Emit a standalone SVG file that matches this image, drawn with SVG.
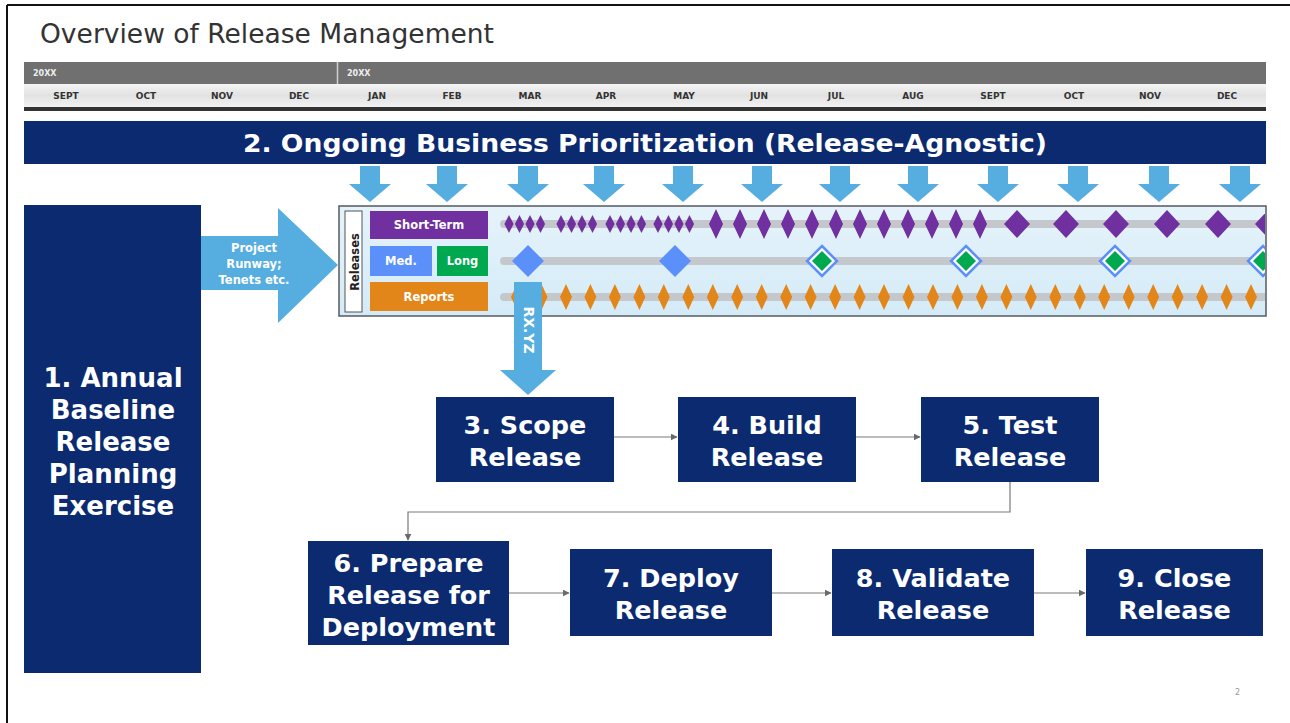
<svg xmlns="http://www.w3.org/2000/svg" xmlns:xlink="http://www.w3.org/1999/xlink" width="1290" height="723" viewBox="0 0 1290 723">
  <style>
    .title { font-family: "DejaVu Sans", Verdana, sans-serif; font-size: 26px; fill: #333333; }
    .yr { font-family: "DejaVu Sans", Verdana, sans-serif; font-size: 8px; font-weight: bold; fill: #eeeeee; }
    .mon { font-family: "DejaVu Sans", Verdana, sans-serif; font-size: 9px; font-weight: bold; fill: #333333; text-anchor: middle; }
    .navy { fill: #0b2a6f; }
    .big { font-family: "DejaVu Sans", Verdana, sans-serif; font-size: 25.5px; font-weight: bold; fill: #ffffff; text-anchor: middle; }
    .banner { font-family: "DejaVu Sans", Verdana, sans-serif; font-size: 24px; font-weight: bold; fill: #ffffff; text-anchor: middle; }
    .lbl { font-family: "DejaVu Sans", Verdana, sans-serif; font-size: 11.5px; font-weight: bold; fill: #ffffff; text-anchor: middle; }
    .arrowtxt { font-family: "DejaVu Sans", Verdana, sans-serif; font-size: 11.5px; font-weight: bold; fill: #ffffff; text-anchor: middle; }
    .lblue { fill: #56ade0; }
    .track { stroke: #c4c8cc; stroke-width: 8; stroke-linecap: round; }
    .conn { fill: none; stroke: #7a7a7a; stroke-width: 1.2; }
  </style>
  <defs>
    <linearGradient id="monthGrad" x1="0" y1="0" x2="0" y2="1">
      <stop offset="0" stop-color="#f4f4f4"/>
      <stop offset="0.5" stop-color="#e2e2e2"/>
      <stop offset="1" stop-color="#f2f2f2"/>
    </linearGradient>
    <linearGradient id="panelGrad" x1="0" y1="0" x2="0" y2="1">
      <stop offset="0" stop-color="#e6f3fb"/>
      <stop offset="1" stop-color="#d4ebf7"/>
    </linearGradient>
    <clipPath id="panelClip">
      <rect x="340" y="207" width="925" height="108"/>
    </clipPath>
    <marker id="tri" viewBox="0 0 10 10" refX="9" refY="5" markerWidth="7" markerHeight="7" orient="auto" markerUnits="userSpaceOnUse">
      <path d="M0,0 L10,5 L0,10 Z" fill="#6a6a6a"/>
    </marker>
    <path id="dSmall" d="M0,-9 L4.6,0 L0,9 L-4.6,0 Z" fill="#7030a0"/>
    <path id="dMid" d="M0,-15 L7,0 L0,15 L-7,0 Z" fill="#7030a0"/>
    <path id="dFat" d="M0,-14 L13,0 L0,14 L-13,0 Z" fill="#7030a0"/>
    <path id="dOrange" d="M0,-13 L6,0 L0,13 L-6,0 Z" fill="#e2861a"/>
    <path id="dBlue" d="M0,-16 L16,0 L0,16 L-16,0 Z" fill="#5b8ff9"/>
    <g id="dGreen">
      <path d="M0,-15 L15,0 L0,15 L-15,0 Z" fill="#ffffff" stroke="#5b8ff9" stroke-width="2.5"/>
      <path d="M0,-10 L10,0 L0,10 L-10,0 Z" fill="#00a850"/>
    </g>
    <path id="downArrow" d="M-10,0 L10,0 L10,18 L21,18 L0,36 L-21,18 L-10,18 Z" fill="#56ade0"/>
  </defs>

  <!-- page frame -->
  <rect x="0" y="0" width="1290" height="723" fill="#ffffff"/>
  <line x1="7" y1="5" x2="1290" y2="5" stroke="#111111" stroke-width="2"/>
  <line x1="7" y1="5" x2="7" y2="723" stroke="#111111" stroke-width="2"/>

  <text class="title" x="40" y="43" textLength="454" lengthAdjust="spacingAndGlyphs">Overview of Release Management</text>

  <!-- timeline -->
  <g id="timeline">
    <rect x="24" y="62" width="1242" height="22" fill="#707070"/>
    <line x1="337.5" y1="62" x2="337.5" y2="84" stroke="#d0d0d0" stroke-width="1.5"/>
    <text class="yr" x="33" y="76">20XX</text>
    <text class="yr" x="347" y="76">20XX</text>
    <rect x="24" y="84" width="1242" height="23" fill="url(#monthGrad)"/>
    <rect x="24" y="107" width="1242" height="4" fill="#333333"/>
    <text class="mon" x="66" y="99">SEPT</text>
    <text class="mon" x="146" y="99">OCT</text>
    <text class="mon" x="222" y="99">NOV</text>
    <text class="mon" x="299" y="99">DEC</text>
    <text class="mon" x="377" y="99">JAN</text>
    <text class="mon" x="452" y="99">FEB</text>
    <text class="mon" x="530" y="99">MAR</text>
    <text class="mon" x="606" y="99">APR</text>
    <text class="mon" x="684" y="99">MAY</text>
    <text class="mon" x="759" y="99">JUN</text>
    <text class="mon" x="836" y="99">JUL</text>
    <text class="mon" x="913" y="99">AUG</text>
    <text class="mon" x="993" y="99">SEPT</text>
    <text class="mon" x="1074" y="99">OCT</text>
    <text class="mon" x="1150" y="99">NOV</text>
    <text class="mon" x="1227" y="99">DEC</text>
  </g>

  <!-- 2. ongoing prioritization banner -->
  <g id="node2">
    <rect class="navy" x="24" y="121" width="1242" height="43"/>
    <text class="banner" x="645" y="152" textLength="804" lengthAdjust="spacingAndGlyphs">2. Ongoing Business Prioritization (Release-Agnostic)</text>
  </g>

  <!-- prioritization feed arrows -->
  <g id="feedArrows">
    <use xlink:href="#downArrow" x="370" y="166"/>
    <use xlink:href="#downArrow" x="447" y="166"/>
    <use xlink:href="#downArrow" x="528" y="166"/>
    <use xlink:href="#downArrow" x="604" y="166"/>
    <use xlink:href="#downArrow" x="683" y="166"/>
    <use xlink:href="#downArrow" x="762" y="166"/>
    <use xlink:href="#downArrow" x="840" y="166"/>
    <use xlink:href="#downArrow" x="918" y="166"/>
    <use xlink:href="#downArrow" x="998" y="166"/>
    <use xlink:href="#downArrow" x="1078" y="166"/>
    <use xlink:href="#downArrow" x="1159" y="166"/>
    <use xlink:href="#downArrow" x="1240" y="166"/>
  </g>

  <!-- 1. annual planning -->
  <g id="node1">
    <rect class="navy" x="24" y="205" width="177" height="468"/>
    <text class="big" x="113" y="387" style="font-size:26px">1. Annual</text>
    <text class="big" x="113" y="419" style="font-size:26px">Baseline</text>
    <text class="big" x="113" y="451" style="font-size:26px">Release</text>
    <text class="big" x="113" y="483" style="font-size:26px">Planning</text>
    <text class="big" x="113" y="515" style="font-size:26px">Exercise</text>
  </g>

  <!-- input arrow -->
  <g id="inputArrow">
    <path class="lblue" d="M201,236 L278,236 L278,208 L338,265 L278,323 L278,290 L201,290 Z"/>
    <text class="arrowtxt" x="254" y="252">Project</text>
    <text class="arrowtxt" x="254" y="268">Runway;</text>
    <text class="arrowtxt" x="254" y="284">Tenets etc.</text>
  </g>

  <!-- releases panel -->
  <g id="releases">
    <rect x="339" y="206" width="927" height="110" fill="url(#panelGrad)" stroke="#555a60" stroke-width="1.5"/>
    <rect x="345" y="211" width="17" height="101" fill="#ffffff" stroke="#555555" stroke-width="1"/>
    <text transform="translate(358.5,262) rotate(-90)" style="font-family:'DejaVu Sans',Verdana,sans-serif;font-size:11.5px;font-weight:bold;fill:#222222;text-anchor:middle">Releases</text>

    <rect x="370" y="211" width="118" height="28" fill="#7030a0"/>
    <text class="lbl" x="429" y="229">Short-Term</text>
    <rect x="370" y="246" width="62" height="30" fill="#5b8ff9"/>
    <text class="lbl" x="401" y="265">Med.</text>
    <rect x="437" y="246" width="51" height="30" fill="#00a850"/>
    <text class="lbl" x="462.5" y="265">Long</text>
    <rect x="370" y="282" width="118" height="29" fill="#e2861a"/>
    <text class="lbl" x="429" y="301">Reports</text>

    <g clip-path="url(#panelClip)">
      <line class="track" x1="504" y1="224" x2="1270" y2="224"/>
      <line class="track" x1="504" y1="261" x2="1270" y2="261"/>
      <line class="track" x1="504" y1="297" x2="1270" y2="297"/>

      <!-- short-term: weekly, then fortnightly, then monthly -->
      <use xlink:href="#dSmall" x="509" y="224"/><use xlink:href="#dSmall" x="519.5" y="224"/><use xlink:href="#dSmall" x="530" y="224"/><use xlink:href="#dSmall" x="540.5" y="224"/>
      <use xlink:href="#dSmall" x="561" y="224"/><use xlink:href="#dSmall" x="571.5" y="224"/><use xlink:href="#dSmall" x="582" y="224"/><use xlink:href="#dSmall" x="592.5" y="224"/>
      <use xlink:href="#dSmall" x="610" y="224"/><use xlink:href="#dSmall" x="620.5" y="224"/><use xlink:href="#dSmall" x="631" y="224"/><use xlink:href="#dSmall" x="641.5" y="224"/>
      <use xlink:href="#dSmall" x="658" y="224"/><use xlink:href="#dSmall" x="668.5" y="224"/><use xlink:href="#dSmall" x="679" y="224"/><use xlink:href="#dSmall" x="689.5" y="224"/>
      <use xlink:href="#dMid" x="716" y="224"/><use xlink:href="#dMid" x="740" y="224"/><use xlink:href="#dMid" x="764" y="224"/><use xlink:href="#dMid" x="788" y="224"/>
      <use xlink:href="#dMid" x="812" y="224"/><use xlink:href="#dMid" x="836" y="224"/><use xlink:href="#dMid" x="860" y="224"/><use xlink:href="#dMid" x="884" y="224"/>
      <use xlink:href="#dMid" x="908" y="224"/><use xlink:href="#dMid" x="932" y="224"/><use xlink:href="#dMid" x="956" y="224"/><use xlink:href="#dMid" x="980" y="224"/>
      <use xlink:href="#dFat" x="1017" y="224"/><use xlink:href="#dFat" x="1066" y="224"/><use xlink:href="#dFat" x="1116" y="224"/>
      <use xlink:href="#dFat" x="1167" y="224"/><use xlink:href="#dFat" x="1218" y="224"/><use xlink:href="#dFat" x="1268" y="224"/>

      <!-- medium / long term -->
      <use xlink:href="#dBlue" x="528" y="261"/>
      <use xlink:href="#dBlue" x="675" y="261"/>
      <use xlink:href="#dGreen" x="822" y="261"/>
      <use xlink:href="#dGreen" x="966" y="261"/>
      <use xlink:href="#dGreen" x="1115" y="261"/>
      <use xlink:href="#dGreen" x="1263" y="261"/>

      <!-- reports -->
      <use xlink:href="#dOrange" x="517" y="297"/><use xlink:href="#dOrange" x="541.5" y="297"/><use xlink:href="#dOrange" x="566" y="297"/><use xlink:href="#dOrange" x="590.4" y="297"/>
      <use xlink:href="#dOrange" x="614.9" y="297"/><use xlink:href="#dOrange" x="639.4" y="297"/><use xlink:href="#dOrange" x="663.8" y="297"/><use xlink:href="#dOrange" x="688.3" y="297"/>
      <use xlink:href="#dOrange" x="712.8" y="297"/><use xlink:href="#dOrange" x="737.2" y="297"/><use xlink:href="#dOrange" x="761.7" y="297"/><use xlink:href="#dOrange" x="786.2" y="297"/>
      <use xlink:href="#dOrange" x="810.6" y="297"/><use xlink:href="#dOrange" x="835.1" y="297"/><use xlink:href="#dOrange" x="859.6" y="297"/><use xlink:href="#dOrange" x="884" y="297"/>
      <use xlink:href="#dOrange" x="908.5" y="297"/><use xlink:href="#dOrange" x="933" y="297"/><use xlink:href="#dOrange" x="957.4" y="297"/><use xlink:href="#dOrange" x="981.9" y="297"/>
      <use xlink:href="#dOrange" x="1006.4" y="297"/><use xlink:href="#dOrange" x="1030.8" y="297"/><use xlink:href="#dOrange" x="1055.3" y="297"/><use xlink:href="#dOrange" x="1079.8" y="297"/>
      <use xlink:href="#dOrange" x="1104.2" y="297"/><use xlink:href="#dOrange" x="1128.7" y="297"/><use xlink:href="#dOrange" x="1153.2" y="297"/><use xlink:href="#dOrange" x="1177.6" y="297"/>
      <use xlink:href="#dOrange" x="1202.1" y="297"/><use xlink:href="#dOrange" x="1226.6" y="297"/><use xlink:href="#dOrange" x="1251" y="297"/>
    </g>
  </g>

  <!-- release pick-off arrow -->
  <g id="rxArrow">
    <path class="lblue" d="M514,282 L542,282 L542,370 L556,370 L528,395 L500,370 L514,370 Z"/>
    <text transform="translate(523.5,330) rotate(90)" style="font-family:'DejaVu Sans',Verdana,sans-serif;font-size:14px;font-weight:bold;fill:#ffffff;text-anchor:middle">RX.YZ</text>
  </g>

  <!-- process steps -->
  <g id="node3">
    <rect class="navy" x="436" y="397" width="178" height="85"/>
    <text class="big" x="525" y="434">3. Scope</text>
    <text class="big" x="525" y="466">Release</text>
  </g>
  <g id="node4">
    <rect class="navy" x="678" y="397" width="178" height="85"/>
    <text class="big" x="767" y="434">4. Build</text>
    <text class="big" x="767" y="466">Release</text>
  </g>
  <g id="node5">
    <rect class="navy" x="921" y="397" width="178" height="85"/>
    <text class="big" x="1010" y="434">5. Test</text>
    <text class="big" x="1010" y="466">Release</text>
  </g>
  <g id="node6">
    <rect class="navy" x="308" y="541" width="201" height="104"/>
    <text class="big" x="408.5" y="572">6. Prepare</text>
    <text class="big" x="408.5" y="604">Release for</text>
    <text class="big" x="408.5" y="636">Deployment</text>
  </g>
  <g id="node7">
    <rect class="navy" x="570" y="549" width="202" height="87"/>
    <text class="big" x="671" y="587">7. Deploy</text>
    <text class="big" x="671" y="619">Release</text>
  </g>
  <g id="node8">
    <rect class="navy" x="832" y="549" width="202" height="87"/>
    <text class="big" x="933" y="587">8. Validate</text>
    <text class="big" x="933" y="619">Release</text>
  </g>
  <g id="node9">
    <rect class="navy" x="1086" y="549" width="177" height="87"/>
    <text class="big" x="1174.5" y="587">9. Close</text>
    <text class="big" x="1174.5" y="619">Release</text>
  </g>

  <!-- step connectors -->
  <g id="connectors">
    <line class="conn" x1="614" y1="437" x2="677" y2="437" marker-end="url(#tri)"/>
    <line class="conn" x1="856" y1="437" x2="920" y2="437" marker-end="url(#tri)"/>
    <polyline class="conn" points="1010,482 1010,512 408,512 408,540" marker-end="url(#tri)"/>
    <line class="conn" x1="509" y1="593" x2="569" y2="593" marker-end="url(#tri)"/>
    <line class="conn" x1="772" y1="593" x2="831" y2="593" marker-end="url(#tri)"/>
    <line class="conn" x1="1034" y1="593" x2="1085" y2="593" marker-end="url(#tri)"/>
  </g>

  <text x="1235" y="695" style="font-family:'DejaVu Sans',Verdana,sans-serif;font-size:8px;fill:#999999">2</text>
</svg>
